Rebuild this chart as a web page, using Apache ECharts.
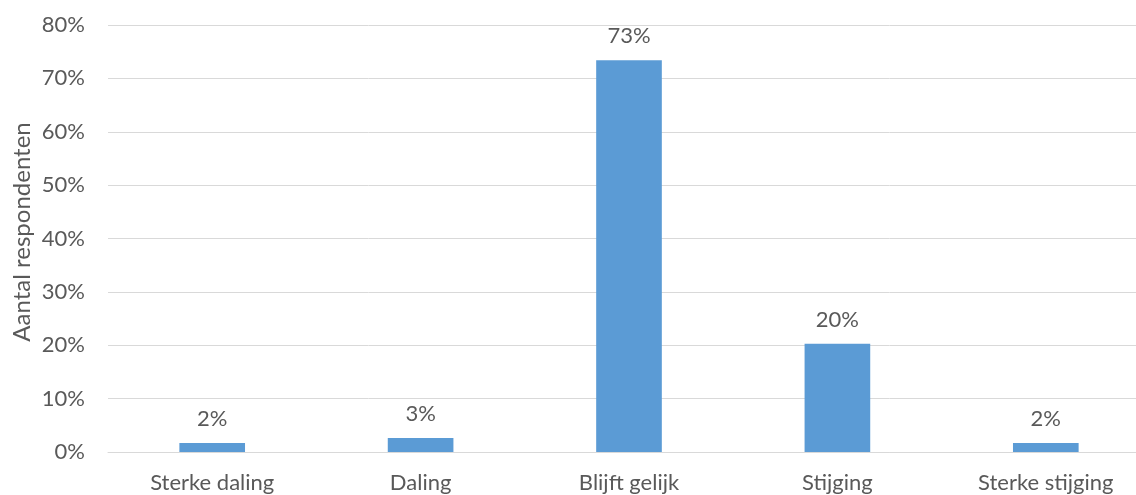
<!DOCTYPE html>
<html>
<head>
<meta charset="utf-8">
<script src="https://cdn.jsdelivr.net/npm/echarts@6/dist/echarts.min.js"></script>
<style>
  html, body { margin: 0; padding: 0; background: #ffffff; overflow: hidden; }
  /* the plot runs slightly past the right edge of the window */
  #chart { width: 1150px; height: 495px; }
</style>
</head>
<body>
<div id="chart"></div>
<script>
// Verwachte ontwikkeling: aandeel respondenten per antwoord (in %)
const categories = ['Sterke daling', 'Daling', 'Blijft gelijk', 'Stijging', 'Sterke stijging'];
const shares = [1.7, 2.6, 73.4, 20.3, 1.7];
const yTicks = [0, 10, 20, 30, 40, 50, 60, 70, 80];
const yTitle = 'Aantal respondenten';

const FONT = 'Lato, "Open Sans", sans-serif';
const TEXT = '#595959';
const SIZE = 22;

const chart = echarts.init(document.getElementById('chart'), null, { renderer: 'canvas' });

chart.setOption({
  animation: false,
  backgroundColor: '#ffffff',
  textStyle: { fontFamily: FONT },
  grid: { left: 108, top: 25, right: 0, height: 427, containLabel: false },
  graphic: [{
    type: 'text',
    x: 22,
    y: 232,
    rotation: Math.PI / 2,
    style: {
      text: yTitle,
      fill: TEXT,
      font: '24px ' + FONT,
      textAlign: 'center',
      textVerticalAlign: 'middle'
    }
  }],
  xAxis: {
    type: 'category',
    data: categories,
    axisLine: { show: true, lineStyle: { color: '#d9d9d9', width: 1 } },
    axisTick: { show: false },
    axisLabel: { color: TEXT, fontSize: SIZE, fontFamily: FONT, margin: 20 }
  },
  yAxis: {
    type: 'value',
    min: yTicks[0],
    max: yTicks[yTicks.length - 1],
    interval: 10,
    axisLine: { show: false },
    axisTick: { show: false },
    splitLine: { lineStyle: { color: '#d9d9d9', width: 1 } },
    axisLabel: {
      color: TEXT, fontSize: SIZE, fontFamily: FONT, margin: 23,
      formatter: v => v + '%'
    }
  },
  series: [{
    type: 'bar',
    data: shares,
    barWidth: '31.5%',
    itemStyle: { color: '#5b9bd5' },
    label: {
      show: true,
      position: 'top',
      distance: 13,
      color: TEXT,
      fontSize: SIZE,
      fontFamily: FONT,
      formatter: p => Math.round(p.value) + '%'
    }
  }]
});
</script>
</body>
</html>
